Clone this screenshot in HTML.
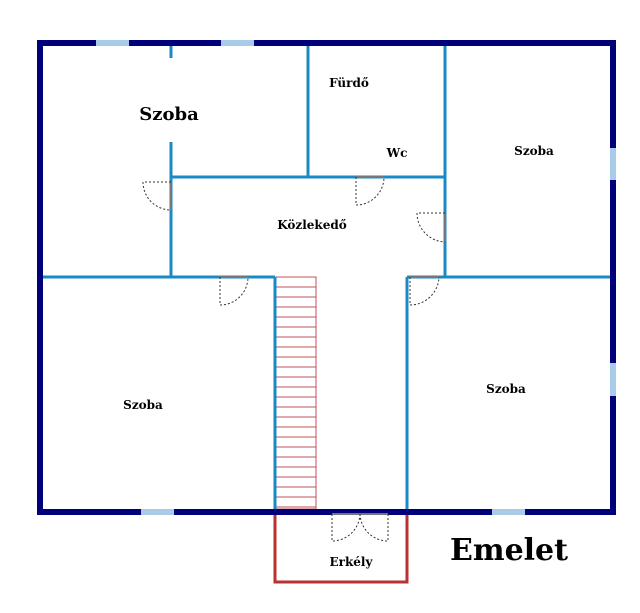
<!DOCTYPE html>
<html><head><style>body{margin:0;background:#fff}svg{display:block}text{font-family:"DejaVu Serif","Liberation Serif",serif;font-weight:bold;fill:#000}</style></head>
<body>
<svg width="640" height="613" viewBox="0 0 640 613" xmlns="http://www.w3.org/2000/svg">
<rect x="0" y="0" width="640" height="613" fill="#fff"/>
<!-- stairs -->
<g stroke="#c0505a" stroke-width="1" fill="none">
<rect x="276" y="277" width="40" height="232"/>
<path d="M276 287H316M276 297H316M276 307H316M276 317H316M276 327H316M276 337H316M276 347H316M276 357H316M276 367H316M276 377H316M276 387H316M276 397H316M276 407H316M276 417H316M276 427H316M276 437H316M276 447H316M276 457H316M276 467H316M276 477H316M276 487H316M276 497H316M276 507H316"/>
</g>
<!-- balcony -->
<rect x="275" y="512" width="132" height="70" fill="none" stroke="#b83232" stroke-width="3"/>
<!-- interior walls -->
<g stroke="#1a8ac6" stroke-width="3" fill="none">
<path d="M171 43V58M171 142V277M308 43V177M445 43V277M171 177H445M40 277H275M407 277H613M275 277V512M407 277V512"/>
</g>
<!-- outer walls -->
<rect x="40" y="43" width="573" height="469" fill="none" stroke="#00007a" stroke-width="6"/>
<!-- windows -->
<g fill="#a8cce8">
<rect x="96" y="40" width="33" height="6"/><rect x="221" y="40" width="33" height="6"/>
<rect x="610" y="148" width="6" height="32"/><rect x="610" y="363" width="6" height="33"/>
<rect x="141" y="509" width="33" height="6"/><rect x="492" y="509" width="33" height="6"/>
</g>
<!-- doors -->
<g stroke="#777" stroke-width="2">
<path d="M171 182V210M220 277H248M356 177H384M445 213V242M410 277H439M332 514H388"/>
</g>
<g stroke="#333" stroke-width="1" fill="none" stroke-dasharray="2,2">
<path d="M171 182H143A28 28 0 0 0 171 210"/>
<path d="M220 277V305A28 28 0 0 0 248 277"/>
<path d="M356 177V205A28 28 0 0 0 384 177"/>
<path d="M445 213H417A29 29 0 0 0 445 242"/>
<path d="M410 277V305A29 29 0 0 0 439 277"/>
<path d="M332 514V541A28 28 0 0 0 360 514"/>
<path d="M388 514V541A28 28 0 0 1 360 514"/>
</g>
<!-- labels -->
<text x="169" y="120" font-size="18" text-anchor="middle">Szoba</text>
<text x="349" y="87" font-size="12" text-anchor="middle">Fürdő</text>
<text x="397" y="157" font-size="12" text-anchor="middle">Wc</text>
<text x="534" y="155" font-size="12" text-anchor="middle">Szoba</text>
<text x="312" y="229" font-size="12" text-anchor="middle">Közlekedő</text>
<text x="143" y="409" font-size="12" text-anchor="middle">Szoba</text>
<text x="506" y="393" font-size="12" text-anchor="middle">Szoba</text>
<text x="351" y="566" font-size="12" text-anchor="middle">Erkély</text>
<text x="509" y="560" font-size="30" text-anchor="middle">Emelet</text>
</svg>
</body></html>
